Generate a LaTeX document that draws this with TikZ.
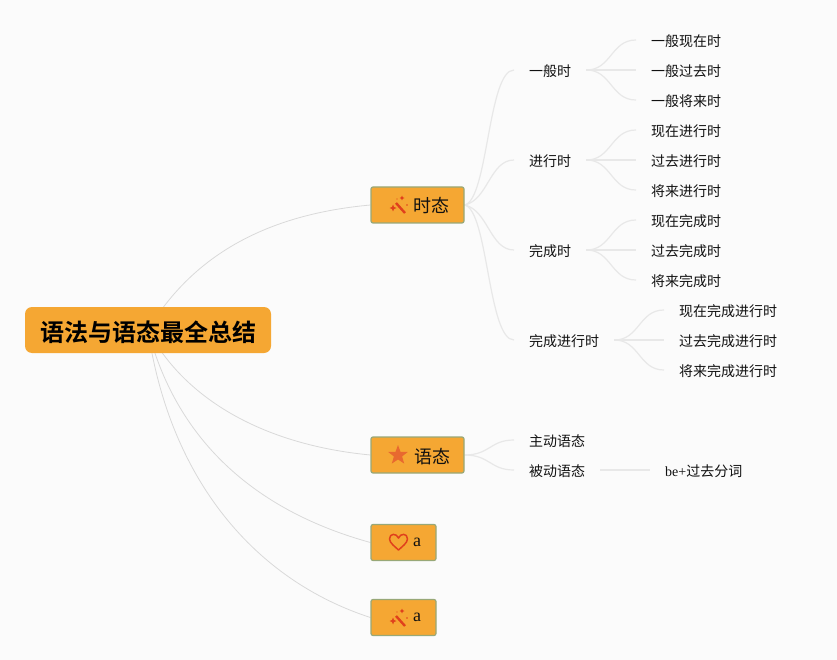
\documentclass[tikz,border=0pt]{standalone}
\usepackage{fontspec}
\setmainfont{Liberation Serif}
\newfontfamily\cjk{Noto Sans CJK SC}
\newfontfamily\cjkb{Noto Sans CJK SC Bold}
\usetikzlibrary{backgrounds}
\definecolor{bgc}{HTML}{FBFBFB}
\definecolor{orangefill}{HTML}{F5A733}
\definecolor{boxedge}{HTML}{98A878}
\definecolor{linkc}{HTML}{D9D9D9}
\definecolor{softlink}{HTML}{E8E8E8}
\definecolor{iconred}{HTML}{E0401C}
\definecolor{starc}{HTML}{E8692F}
\definecolor{ink}{HTML}{111111}
\tikzset{
  x=1pt,y=-1pt,
  rootbox/.style={fill=orangefill,rounded corners=7pt,minimum width=246pt,minimum height=46pt,inner sep=0pt,text height=26pt,text depth=3pt,font=\cjkb\fontsize{24}{24}\selectfont,text=black},
  branchbox/.style={fill=orangefill,draw=boxedge,line width=1.2pt,rounded corners=2pt,minimum height=36pt,inner sep=0pt},
  leaf/.style={inner xsep=15pt,inner ysep=0pt,text height=14.3pt,text depth=1.7pt,font=\cjk\fontsize{14}{14}\selectfont,text=ink},
  link/.style={draw=linkc,line width=.8pt},
  softline/.style={draw=softlink,line width=1.2pt},
  branchtext/.style={inner sep=0pt,font=\cjk\fontsize{18}{18}\selectfont,text=ink},
  lettertext/.style={inner sep=0pt,anchor=west,font=\fontsize{18}{18}\selectfont,text=ink}
}
\newcommand{\wandicon}[2]{%
  \begin{scope}[shift={(#1,#2)}]
    \draw[iconred,line width=2.4pt] (-2,-2) -- (7,8);
    \fill[iconred] (-5,-.5) -- (-4,2) -- (-1.5,3) -- (-4,4) -- (-5,6.5) -- (-6,4) -- (-8.5,3) -- (-6,2) -- cycle;
    \fill[iconred] (4,-9.5) -- (4.8,-7.8) -- (6.5,-7) -- (4.8,-6.2) -- (4,-4.5) -- (3.2,-6.2) -- (1.5,-7) -- (3.2,-7.8) -- cycle;
    \fill[iconred] (9,0) circle (.9);
    \fill[iconred] (-1,-6) circle (.7);
  \end{scope}}
\newcommand{\hearticon}[2]{%
  \draw[iconred,line width=1.5pt,line join=round,shift={(#1,#2)}] (0,8) .. controls (-3,5) and (-9,1) .. (-9,-3) .. controls (-9,-9) and (-2,-9) .. (0,-4) .. controls (2,-9) and (9,-9) .. (9,-3) .. controls (9,1) and (3,5) .. (0,8) -- cycle;}
\newcommand{\staricon}[2]{%
  \fill[starc,shift={(#1,#2)}] (0,-10) -- (2.5,-3.2) -- (9.8,-3) -- (4.1,1.4) -- (6.2,8.6) -- (0,4.5) -- (-6.2,8.6) -- (-4.1,1.4) -- (-9.8,-3) -- (-2.5,-3.2) -- cycle;}
\begin{document}
\begin{tikzpicture}
\useasboundingbox (0,0) rectangle (837,660);
\begin{pgfonlayer}{background}
  \fill[bgc] (0,0) rectangle (837,660);
\end{pgfonlayer}
% root and branches
\node[rootbox] (root) at (148,330) {语法与语态最全总结};
\node[branchbox,minimum width=93pt] (tai) at (417.5,205) {};
\node[branchbox,minimum width=93pt] (yu) at (417.5,455) {};
\node[branchbox,minimum width=65pt] (a1) at (403.5,542.5) {};
\node[branchbox,minimum width=65pt] (a2) at (403.5,617.5) {};
\wandicon{398}{205}
\node[branchtext,anchor=west] (taitext) at (413,206) {时态};
\staricon{398}{455}
\node[branchtext,anchor=west] (yutext) at (414,457) {语态};
\hearticon{398.5}{542}
\node[lettertext] (a1text) at (413,542) {a};
\wandicon{398}{618}
\node[lettertext] (a2text) at (413,617) {a};
% second level
\node[leaf,anchor=west] (g1) at (514,70) {一般时};
\node[leaf,anchor=west] (g2) at (514,160) {进行时};
\node[leaf,anchor=west] (g3) at (514,250) {完成时};
\node[leaf,anchor=west] (g4) at (514,340) {完成进行时};
\node[leaf,anchor=west] (v1) at (514,440) {主动语态};
\node[leaf,anchor=west] (v2) at (514,470) {被动语态};
% third level
\foreach \n/\y/\t in {a1/40/一般现在时,a2/70/一般过去时,a3/100/一般将来时,b1/130/现在进行时,b2/160/过去进行时,b3/190/将来进行时,c1/220/现在完成时,c2/250/过去完成时,c3/280/将来完成时}
  \node[leaf,anchor=west] (l\n) at (636,\y) {\t};
\foreach \n/\y/\t in {d1/310/现在完成进行时,d2/340/过去完成进行时,d3/370/将来完成进行时}
  \node[leaf,anchor=west] (l\n) at (664,\y) {\t};
\node[leaf,anchor=west,font=\fontsize{14}{14}\selectfont] (be) at (650,470) {be+{\cjk 过去分词}};
\begin{pgfonlayer}{background}
  % root links
  \draw[link] (root.center) .. controls (190,260) and (260,215) .. (tai.west);
  \draw[link] (root.center) .. controls (185,400) and (265,445) .. (yu.west);
  \draw[link] (root.center) .. controls (178,445) and (260,512) .. (a1.west);
  \draw[link] (root.center) .. controls (170,480) and (255,580) .. (a2.west);
  % branch links
  \draw[softline] (tai.east) .. controls (488,200) and (488,70) .. (g1.west);
  \draw[softline] (tai.east) .. controls (488,200) and (490,160) .. (g2.west);
  \draw[softline] (tai.east) .. controls (488,210) and (490,250) .. (g3.west);
  \draw[softline] (tai.east) .. controls (488,210) and (488,340) .. (g4.west);
  \draw[softline] (yu.east) .. controls (490,455) and (490,440) .. (v1.west);
  \draw[softline] (yu.east) .. controls (490,455) and (490,470) .. (v2.west);
  \draw[softline] (v2.east) -- (be.west);
  % leaf links
  \foreach \g/\a/\b/\c in {g1/la1/la2/la3,g2/lb1/lb2/lb3,g3/lc1/lc2/lc3,g4/ld1/ld2/ld3}{
    \draw[softline] (\g.east) .. controls +(25,0) and ([xshift=-25pt]\a.west) .. (\a.west);
    \draw[softline] (\g.east) -- (\b.west);
    \draw[softline] (\g.east) .. controls +(25,0) and ([xshift=-25pt]\c.west) .. (\c.west);
  }
\end{pgfonlayer}
\end{tikzpicture}
\end{document}
